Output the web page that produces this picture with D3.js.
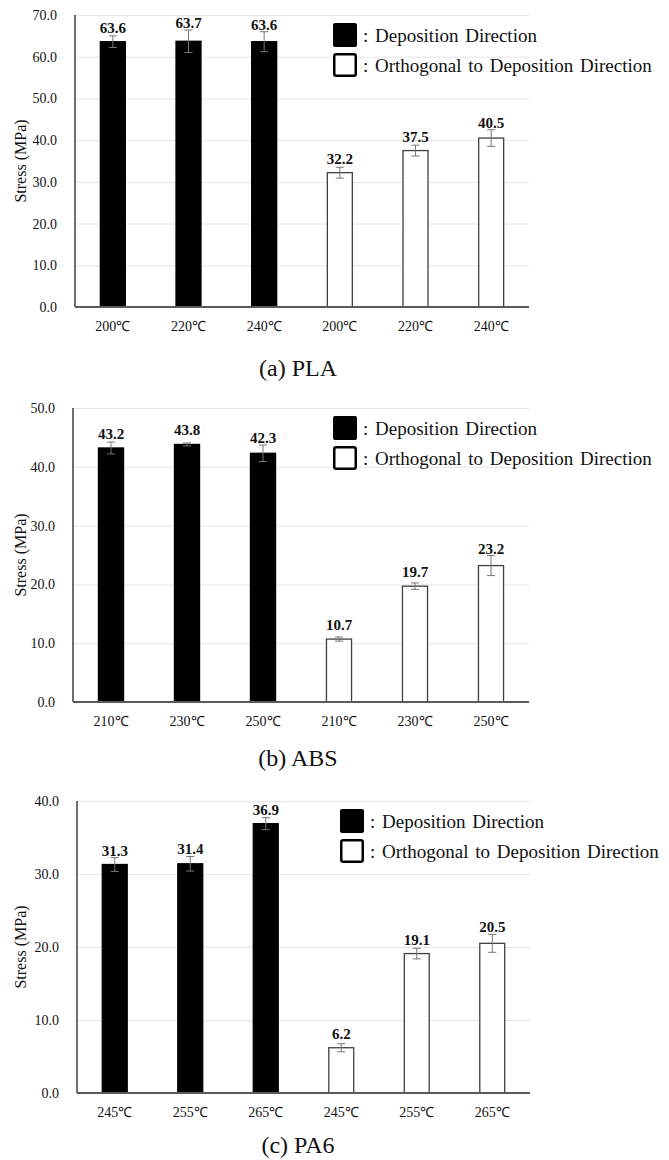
<!DOCTYPE html>
<html>
<head>
<meta charset="utf-8">
<script src="https://cdn.jsdelivr.net/npm/d3@7"></script>
<style>
  body { margin: 0; background: #fff; }
</style>
</head>
<body>
<div id="chart"></div>
<script>
// data
const directions = ["Deposition Direction", "Orthogonal to Deposition Direction"];
const groupOf = [0, 0, 0, 1, 1, 1];

const plaTemps = ["200℃", "220℃", "240℃", "200℃", "220℃", "240℃"];
const plaStress = [63.6, 63.7, 63.6, 32.2, 37.5, 40.5];
const plaError = [1.4, 2.7, 2.4, 1.3, 1.3, 2.0];

const absTemps = ["210℃", "230℃", "250℃", "210℃", "230℃", "250℃"];
const absStress = [43.2, 43.8, 42.3, 10.7, 19.7, 23.2];
const absError = [1.0, 0.25, 1.4, 0.35, 0.55, 1.7];

const pa6Temps = ["245℃", "255℃", "265℃", "245℃", "255℃", "265℃"];
const pa6Stress = [31.3, 31.4, 36.9, 6.2, 19.1, 20.5];
const pa6Error = [0.95, 1.0, 0.82, 0.55, 0.73, 1.23];

const yMaxes = [70, 50, 40];
const captions = ["(a) PLA", "(b) ABS", "(c) PA6"];

(function() {
    const width = 669;
    const height = 1160;
    const serif = '"Liberation Serif", "Times New Roman", serif';

    const svg = d3.select("#chart")
        .append("svg")
        .attr("width", width)
        .attr("height", height)
        .attr("viewBox", [0, 0, width, height]);

    svg.append("rect")
        .attr("width", width)
        .attr("height", height)
        .attr("fill", "#fff");

    // panel frames (plot area in pixels)
    const panels = [
        { temps: plaTemps, stress: plaStress, err: plaError, top: 15, bottom: 307, left: 75, right: 529, legendX: 333, capY: 376 },
        { temps: absTemps, stress: absStress, err: absError, top: 408, bottom: 702, left: 73, right: 529, legendX: 333, capY: 766 },
        { temps: pa6Temps, stress: pa6Stress, err: pa6Error, top: 801, bottom: 1093, left: 77, right: 530, legendX: 340, capY: 1153 },
    ];

    panels.forEach((p, k) => {
        const g = svg.append("g");
        const idx = d3.range(p.stress.length);

        const x = d3.scaleBand()
            .domain(idx)
            .range([p.left, p.right])
            .paddingInner(0.67)
            .paddingOuter(0.335);

        const y = d3.scaleLinear()
            .domain([0, yMaxes[k]])
            .range([p.bottom, p.top]);

        // gridlines + y tick labels
        const yAxis = d3.axisLeft(y)
            .ticks(yMaxes[k] / 10)
            .tickSize(-(p.right - p.left))
            .tickPadding(18)
            .tickFormat(d3.format(".1f"));

        const ya = g.append("g")
            .attr("transform", `translate(${p.left},0)`)
            .call(yAxis);
        ya.select(".domain").remove();
        ya.selectAll(".tick line").attr("stroke", "#e6e6e6").attr("stroke-width", 1);
        ya.selectAll(".tick text")
            .style("font-family", serif)
            .style("font-size", "14px")
            .attr("fill", "#111");

        // y axis line
        g.append("line")
            .attr("x1", p.left).attr("x2", p.left)
            .attr("y1", p.top).attr("y2", p.bottom)
            .attr("stroke", "#222")
            .attr("stroke-width", 1.3);

        // y axis title
        g.append("text")
            .attr("transform", `translate(26,${(p.top + p.bottom) / 2}) rotate(-90)`)
            .attr("text-anchor", "middle")
            .style("font-family", serif)
            .style("font-size", "16px")
            .attr("fill", "#111")
            .text("Stress (MPa)");

        // bars
        g.selectAll(".bar")
            .data(idx)
            .join("rect")
            .attr("x", i => x(i))
            .attr("y", i => y(p.stress[i]))
            .attr("width", x.bandwidth())
            .attr("height", i => y(0) - y(p.stress[i]))
            .attr("fill", i => groupOf[i] === 0 ? "#000" : "#fff")
            .attr("stroke", i => groupOf[i] === 0 ? "#000" : "#404040")
            .attr("stroke-width", 1.3);

        // error bars
        const eb = g.selectAll(".err")
            .data(idx)
            .join("g")
            .attr("stroke", "#777")
            .attr("stroke-width", 1);
        eb.append("line")
            .attr("x1", i => x(i) + x.bandwidth() / 2)
            .attr("x2", i => x(i) + x.bandwidth() / 2)
            .attr("y1", i => y(p.stress[i] + p.err[i]))
            .attr("y2", i => y(p.stress[i] - p.err[i]));
        [1, -1].forEach(s => {
            eb.append("line")
                .attr("x1", i => x(i) + x.bandwidth() / 2 - 4)
                .attr("x2", i => x(i) + x.bandwidth() / 2 + 4)
                .attr("y1", i => y(p.stress[i] + s * p.err[i]))
                .attr("y2", i => y(p.stress[i] + s * p.err[i]));
        });

        // baseline
        g.append("line")
            .attr("x1", p.left).attr("x2", p.right)
            .attr("y1", p.bottom).attr("y2", p.bottom)
            .attr("stroke", "#5a5a5a")
            .attr("stroke-width", 2);

        // value labels
        g.selectAll(".val")
            .data(idx)
            .join("text")
            .attr("x", i => x(i) + x.bandwidth() / 2)
            .attr("y", i => Math.min(y(p.stress[i]) - 9, y(p.stress[i] + p.err[i]) - 2))
            .attr("text-anchor", "middle")
            .style("font-family", serif)
            .style("font-size", "15px")
            .style("font-weight", "bold")
            .attr("fill", "#111")
            .text(i => p.stress[i].toFixed(1));

        // x tick labels
        g.selectAll(".xt")
            .data(idx)
            .join("text")
            .attr("x", i => x(i) + x.bandwidth() / 2)
            .attr("y", p.bottom + 24)
            .attr("text-anchor", "middle")
            .style("font-family", serif)
            .style("font-size", "14px")
            .attr("fill", "#111")
            .text(i => p.temps[i]);

        // caption
        g.append("text")
            .attr("x", 298)
            .attr("y", p.capY)
            .attr("text-anchor", "middle")
            .style("font-family", serif)
            .style("font-size", "24px")
            .attr("fill", "#111")
            .text(captions[k]);

        // legend
        const lg = g.append("g")
            .attr("transform", `translate(${p.legendX},${p.top + 8})`);
        directions.forEach((name, j) => {
            lg.append("rect")
                .attr("x", j === 0 ? 0 : 1.25)
                .attr("y", j * 30 + (j === 0 ? 0 : 1.25))
                .attr("width", j === 0 ? 24 : 21.5)
                .attr("height", j === 0 ? 24 : 21.5)
                .attr("rx", 2)
                .attr("fill", j === 0 ? "#000" : "#fff")
                .attr("stroke", "#000")
                .attr("stroke-width", j === 0 ? 0 : 2.5);
            lg.append("text")
                .attr("x", 30)
                .attr("y", j * 30 + 19)
                .style("font-family", serif)
                .style("font-size", "19px")
                .style("word-spacing", "2px")
                .attr("fill", "#111")
                .text(": " + name);
        });
    });
})();
</script>
</body>
</html>
